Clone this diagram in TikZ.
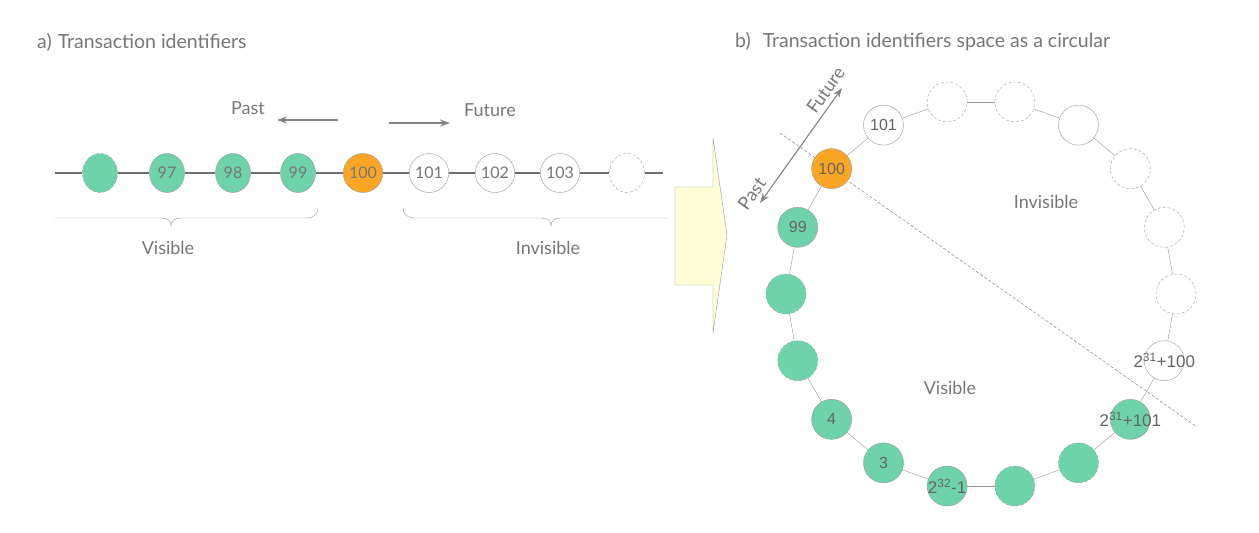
\documentclass[tikz,border=0pt]{standalone}
\usepackage{fontspec}
\setmainfont{Lato}
\newfontfamily\arialfont{Liberation Sans}
\usetikzlibrary{shapes.geometric,arrows.meta}
\definecolor{idgreen}{RGB}{110,211,171}
\definecolor{idorange}{RGB}{250,166,36}
\definecolor{idtext}{RGB}{118,118,118}
\definecolor{idlabel}{RGB}{100,100,100}
\definecolor{idline}{RGB}{150,150,150}
\definecolor{idaxis}{RGB}{110,110,110}
\definecolor{idyellow}{RGB}{255,253,215}
\begin{document}
\begin{tikzpicture}[>={Stealth[length=10pt,width=7pt]}, x=1pt, y=-1pt,
  txt/.style={inner sep=0pt, text=idtext, font=\fontsize{18}{20}\selectfont},
  head/.style={inner sep=0pt, text=idtext, font=\fontsize{19.5}{22}\selectfont},
  xid/.style={ellipse, draw=idline, fill=white, minimum width=35pt, minimum height=39pt, inner sep=0pt, text=idtext, font=\fontsize{16}{18}\selectfont},
  rid/.style={circle, draw=idline, fill=white, minimum size=40pt, inner sep=0pt},
  seen/.style={fill=idgreen},
  now/.style={fill=idorange},
  free/.style={},
  gone/.style={draw=idline!90, dash pattern=on 3pt off 2pt},
  seengone/.style={fill=idgreen, draw=idline!80!idgreen, dash pattern=on 3pt off 2pt},
  idlab/.style={text=idlabel, font=\arialfont\fontsize{16}{18}\selectfont},
  biglab/.style={text=idlabel, font=\arialfont\fontsize{17}{19}\selectfont},
  hint/.style={->, draw=idtext!90, fill=idtext!90, line width=1.1pt}]
 \useasboundingbox (0,0) rectangle (1259,533);
 \node[head, right] (ta) at (37,42) {a)\hspace{6pt}Transaction identifiers};
 \node[head, right] (tb) at (735,42) {b)\hspace{12pt}Transaction identifiers space as a circular};
 \node[txt] (past) at (248,108) {Past};
 \node[txt] (future) at (490,110) {Future};
 \coordinate (pa) at (338,120);
 \coordinate (pb) at (277,120);
 \coordinate (fa) at (389,123);
 \coordinate (fb) at (450,123);
 \draw[hint] (pa) -- (pb);
 \draw[hint] (fa) -- (fb);
 \coordinate (lstart) at (55,173);
 \coordinate (lend) at (663,173);
 \node[xid, seengone] (x96) at (100,173) {};
 \node[xid, seen] (x97) at (167,173) {97};
 \node[xid, seen] (x98) at (233,173) {98};
 \node[xid, seen] (x99) at (298,173) {99};
 \node[xid, now] (x100) at (363,173) {100};
 \node[xid] (x101) at (429,173) {101};
 \node[xid] (x102) at (495,173) {102};
 \node[xid] (x103) at (560,173) {103};
 \node[xid, gone] (x104) at (627,173) {};
 \draw[idaxis, line width=1.3pt] (lstart) -- (x96) -- (x97) -- (x98) -- (x99) -- (x100) -- (x101) -- (x102) -- (x103) -- (x104) -- (lend);
 \draw[idline] (55,218) -- (161,218) .. controls (168,218) and (171,221) .. (171,226)
   .. controls (171,221) and (174,218) .. (181,218) -- (306,218) .. controls (314,218) and (318,214) .. (318,208);
 \draw[idline] (403,208) .. controls (403,214) and (407,218) .. (415,218) -- (541,218)
   .. controls (548,218) and (551,221) .. (551,226) .. controls (551,221) and (554,218) .. (561,218) -- (667,218);
 \node[txt] (vis) at (168,248) {Visible};
 \node[txt] (invis) at (548,248) {Invisible};
 \draw[idline, fill=idyellow] (675,187) -- (713,187) -- (713,138) -- (727,235) -- (713,333) -- (713,285) -- (675,285) -- cycle;
 \coordinate (cut1) at (780,133);
 \coordinate (cut2) at (1197,427);
 \draw[idaxis, densely dashed, thin] (cut1) -- (cut2);
 \foreach \a/\lab/\sty/\lsty [count=\i] in {140/100/now/idlab, 120/101/free/idlab, 100//gone/idlab, 80//gone/idlab,
   60//free/idlab, 40//gone/idlab, 20//gone/idlab, 0//gone/idlab, -20/2\textsuperscript{31}+100/free/biglab,
   -40/2\textsuperscript{31}+101/seen/biglab, -60//seengone/idlab, -80//seengone/idlab, -100/2\textsuperscript{32}-1/seen/biglab,
   -120/3/seen/idlab, -140/4/seen/idlab, -160//seengone/idlab, -180//seengone/idlab, 160/99/seen/idlab}
  \node[rid, \sty, label={[\lsty]center:\lab}] (r\i) at ({981+195*cos(\a)},{294-195*sin(\a)}) {};
 \foreach \i [remember=\i as \last (initially 18)] in {1,...,18}
  \draw[idline] (r\last) -- (r\i);
 \coordinate (pf1) at (760,203);
 \coordinate (pf2) at (842,88);
 \draw[hint, <->] (pf1) -- (pf2)
   node[txt, pos=0.02, above=5pt, sloped] (rpast) {Past}
   node[txt, pos=0.92, above=5pt, sloped] (rfuture) {Future};
 \node[txt] (rinvis) at (1046,202) {Invisible};
 \node[txt] (rvis) at (950,388) {Visible};
\end{tikzpicture}
\end{document}
